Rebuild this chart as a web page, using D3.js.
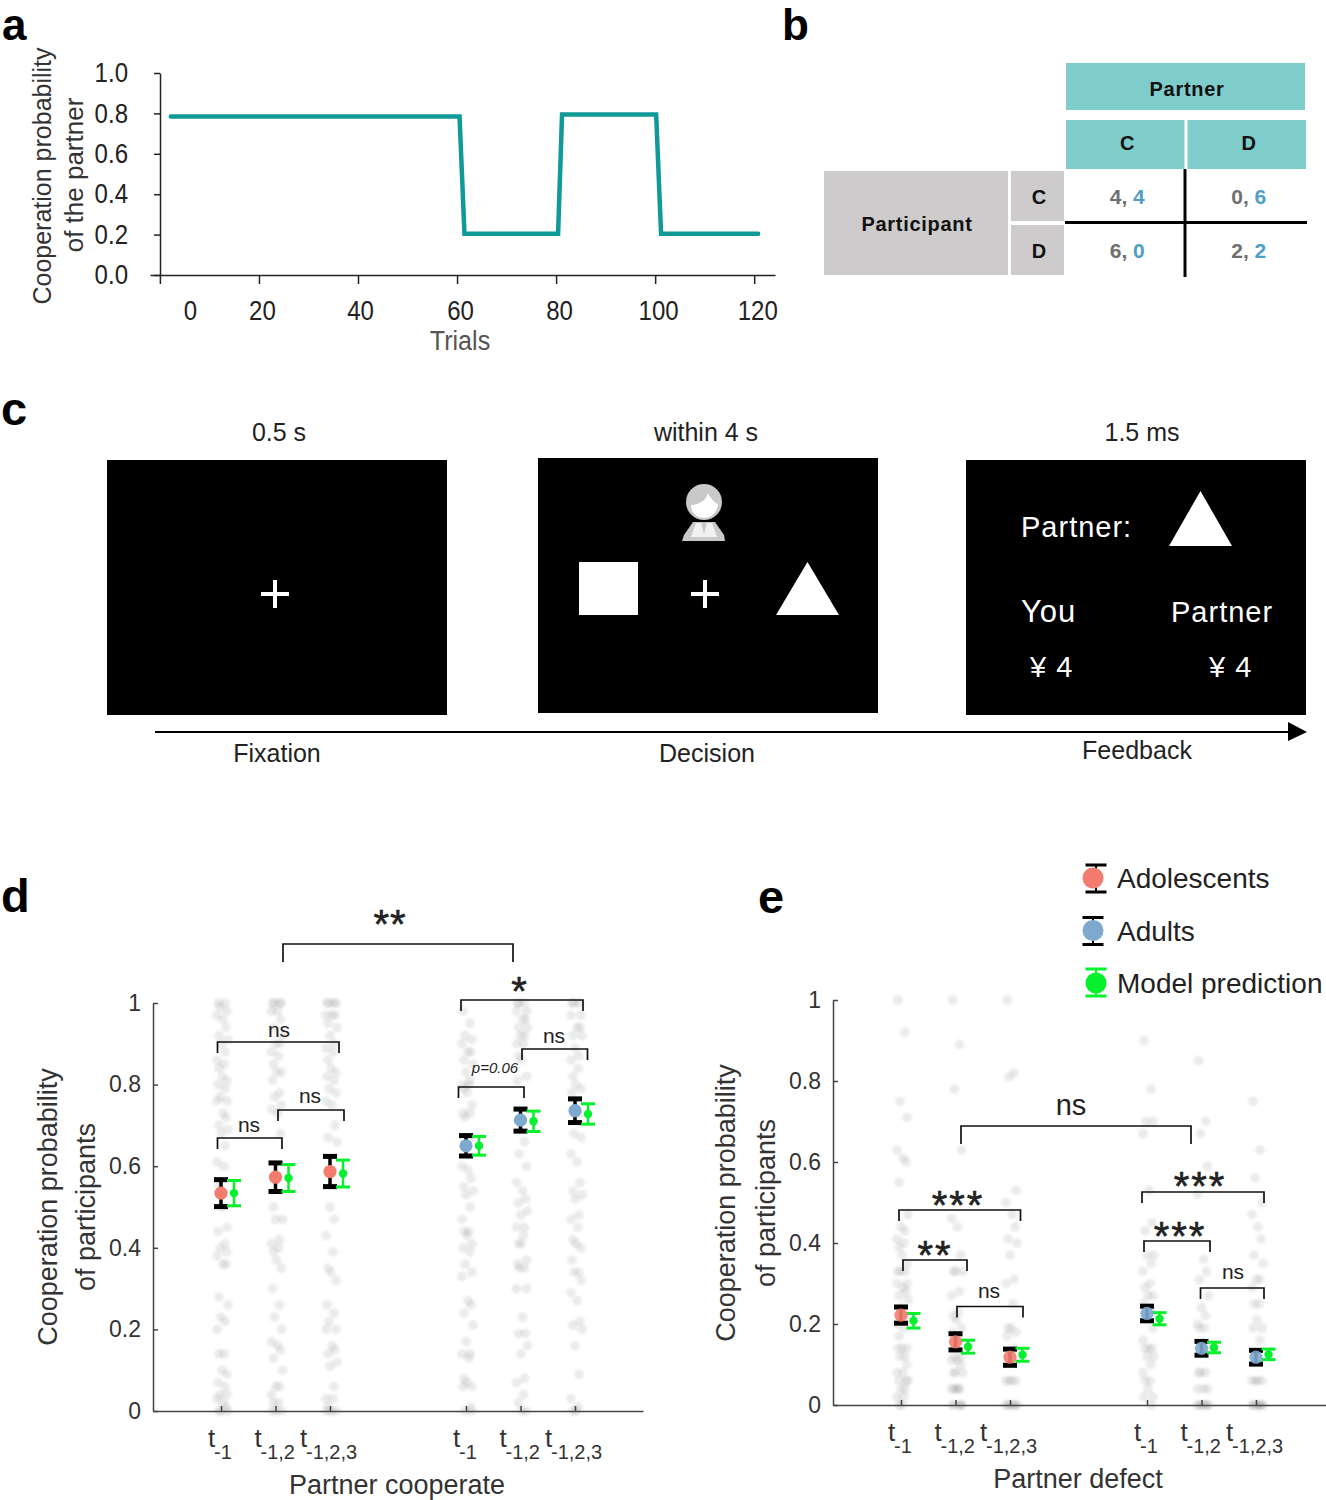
<!DOCTYPE html>
<html>
<head>
<meta charset="utf-8">
<script src="https://cdn.jsdelivr.net/npm/d3@7"></script>
<style>
  body { margin: 0; background: #fff; }
  text { font-family: "Liberation Sans", Arial, sans-serif; }
</style>
</head>
<body>
<div id="chart"></div>
<script>
// panel a
var trials = [2.2, 60.5, 61.5, 80.4, 81.2, 100.2, 101.2, 120.8]
var partnerProb = [0.785, 0.785, 0.204, 0.204, 0.795, 0.795, 0.204, 0.204]
var trialTicks = [0, 20, 40, 60, 80, 100, 120]

// panel b
var partnerActions = ["C", "D"]
var payoffMine = [[4, 0], [6, 2]]
var payoffOther = [[4, 6], [0, 2]]

// panel c
var stageNames = ["Fixation", "Decision", "Feedback"]
var stageTimes = ["0.5 s", "within 4 s", "1.5 ms"]

// shared by d and e
var groups = ["first", "second"]
var lags = ["-1", "-1,2", "-1,2,3"]
var seriesNames = ["Adolescents", "Adults", "Model prediction"]

// panel d, means and half error bars, three lags per group
var dHumanMean = [0.534, 0.573, 0.587, 0.650, 0.713, 0.736]
var dHumanErr = [0.033, 0.035, 0.037, 0.025, 0.027, 0.029]
var dModelMean = [0.534, 0.571, 0.582, 0.650, 0.710, 0.728]
var dModelErr = [0.031, 0.033, 0.033, 0.023, 0.025, 0.025]

// panel e
var eHumanMean = [0.222, 0.156, 0.118, 0.226, 0.140, 0.118]
var eHumanErr = [0.020, 0.020, 0.020, 0.018, 0.017, 0.017]
var eModelMean = [0.208, 0.144, 0.124, 0.213, 0.142, 0.125]
var eModelErr = [0.018, 0.016, 0.016, 0.015, 0.013, 0.013]

// participants
var dCloud = [
  [1,1,.99,.98,.97,.96,.94,.92,.91,.9,.88,.86,.85,.84,.82,.81,.8,.79,.77,.76,.76,.73,.72,.7,.69,.68,.65,.61,.6,.55,.5,.45,.44,.41,.4,.39,.38,.36,.36,.28,.26,.23,.22,.2,.14,.14,.1,.09,.07,.06,.04,.04,.03,.02,.01,0,0,0],
  [1,1,1,1,.98,.98,.96,.94,.92,.9,.9,.88,.87,.85,.83,.83,.81,.78,.77,.75,.74,.73,.68,.5,.47,.47,.42,.41,.4,.39,.37,.35,.3,.26,.23,.2,.17,.16,.15,.13,.1,.06,.06,.04,.02,.02,0,0,0],
  [1,1,1,1,.97,.97,.97,.95,.94,.92,.9,.89,.88,.86,.84,.83,.82,.81,.79,.78,.76,.75,.7,.67,.66,.5,.47,.43,.39,.35,.34,.32,.26,.24,.22,.2,.2,.16,.15,.14,.12,.11,.06,.03,.03,.01,0,0,0],
  [.98,.95,.92,.91,.9,.88,.88,.86,.85,.83,.81,.8,.8,.79,.78,.75,.73,.73,.72,.67,.6,.59,.57,.55,.54,.53,.5,.47,.44,.44,.43,.41,.4,.39,.36,.34,.33,.27,.26,.24,.21,.17,.14,.14,.13,.08,.07,.06,.06,.01,0,0],
  [1,1,1,.98,.98,.96,.96,.94,.94,.92,.92,.9,.9,.87,.86,.82,.81,.66,.63,.6,.56,.54,.52,.51,.49,.48,.45,.45,.43,.41,.41,.37,.36,.35,.35,.3,.3,.23,.19,.19,.16,.14,.08,.07,.04,.02,0,0],
  [1,1,1,.97,.97,.94,.94,.92,.92,.89,.87,.86,.84,.82,.8,.79,.78,.73,.68,.67,.63,.61,.56,.54,.53,.52,.48,.47,.45,.42,.41,.4,.37,.34,.34,.32,.29,.27,.22,.21,.2,.16,.09,.03,.01,0,0]
]
var eCloud = [
  [1,.92,.75,.71,.63,.61,.6,.55,.47,.44,.43,.41,.4,.39,.37,.35,.33,.33,.33,.3,.3,.29,.28,.27,.26,.24,.22,.2,.19,.17,.14,.14,.14,.12,.12,.1,.08,.08,.06,.06,.06,.04,.04,.02,.02,0,0],
  [1,.89,.78,.63,.46,.44,.37,.33,.33,.33,.28,.27,.23,.22,.21,.19,.18,.16,.12,.12,.11,.11,.1,.08,.08,.08,.04,.04,.04,.04,.04,0,0,0,0,0],
  [1,.82,.81,.53,.5,.47,.44,.41,.4,.37,.31,.3,.25,.19,.19,.18,.17,.14,.06,.06,.06,.06,0,0,0,0,0,0],
  [.9,.78,.7,.7,.67,.53,.45,.43,.37,.37,.35,.33,.3,.29,.27,.27,.25,.23,.21,.19,.16,.14,.14,.14,.12,.12,.1,.08,.06,.06,.04,.02,.02,0],
  [.85,.7,.67,.59,.52,.36,.33,.31,.27,.24,.22,.2,.19,.19,.14,.14,.08,.08,.08,.04,.04,.04,0,0,0,0,0,0],
  [.75,.63,.56,.5,.47,.44,.41,.37,.35,.31,.31,.29,.25,.25,.21,.19,.19,.16,.06,.06,.06,.06,0,0,0,0,0,0,0]
]

var colors = { Adolescents: "#f47c6e", Adults: "#7ea9cf", "Model prediction": "#06f02e" }
var jitter = [-4, 3, -2, 5, -5, 1, 4, -3, 6, -1, 3, -5, 2, -3, 0, 5]
var textColor = "#333"

var svg = d3.select("#chart").append("svg")
    .attr("width", 1326)
    .attr("height", 1500)

var defs = svg.append("defs")
defs.append("filter").attr("id", "soft")
    .append("feGaussianBlur").attr("stdDeviation", 1)

// panel letters
var letters = [["a", 2, 40, 44], ["b", 782, 40, 44], ["c", 1, 425, 47], ["d", 1, 912, 47], ["e", 758, 913, 47]]
svg.selectAll(".letter")
    .data(letters)
    .join("text")
    .attr("class", "letter")
    .attr("x", d => d[1])
    .attr("y", d => d[2])
    .style("font-size", d => d[3] + "px")
    .style("font-weight", "bold")
    .text(d => d[0])

function rotatedLabel(g, x, y, txt, size) {
    g.append("text")
        .attr("transform", `translate(${x},${y})rotate(-90)`)
        .attr("text-anchor", "middle")
        .style("font-size", size + "px")
        .style("fill", textColor)
        .text(txt)
}

// the tick labels of panel a are set in a condensed face
function squeeze(sel, factor) {
    sel.each(function () {
        var w = this.getComputedTextLength()
        d3.select(this)
            .attr("textLength", w * factor)
            .attr("lengthAdjust", "spacingAndGlyphs")
    })
}

// ---------- a ----------
function drawA() {
    var g = svg.append("g")
    var x = d3.scaleLinear().domain([-2, 124.2]).range([150, 775])
    var y = d3.scaleLinear().domain([0, 1]).range([275, 73])
    var nudge = [30, 3, 2, 3, 3, 3, 3]

    var ax = g.append("g")
        .attr("transform", "translate(0,275)")
        .call(d3.axisBottom(x).tickValues(trialTicks).tickSize(9).tickSizeOuter(0).tickPadding(17))
    ax.selectAll("text")
        .attr("dx", (d, i) => nudge[i])
        .style("font-size", "27px")
        .style("fill", "#222")
        .call(squeeze, 0.89)

    var ay = g.append("g")
        .attr("transform", "translate(160,0)")
        .call(d3.axisLeft(y).tickValues([0, .2, .4, .6, .8, 1]).tickFormat(d3.format(".1f")).tickSize(6).tickSizeOuter(0).tickPadding(26))
    ay.selectAll("text")
        .style("font-size", "27px")
        .style("fill", "#222")
        .call(squeeze, 0.89)
    g.selectAll(".domain, .tick line").attr("stroke", "#222").attr("stroke-width", 1.5)

    var line = d3.line().x(d => x(d[0])).y(d => y(d[1]))
    g.append("path")
        .datum(d3.zip(trials, partnerProb))
        .attr("d", line)
        .attr("fill", "none")
        .attr("stroke", "#0f9a98")
        .attr("stroke-width", 4.5)
        .attr("stroke-linecap", "round")

    g.append("text")
        .attr("x", 460).attr("y", 350)
        .attr("text-anchor", "middle")
        .style("font-size", "27px")
        .style("fill", "#555")
        .text("Trials")
        .call(squeeze, 0.93)

    rotatedLabel(g, 51, 176, "Cooperation probability", 25)
    rotatedLabel(g, 83, 175, "of the partner", 26)
}

// ---------- b ----------
function drawB() {
    var g = svg.append("g")
    var teal = "#7fcdcb", grey = "#cdcbcc"
    var colX = d3.scaleBand().domain(partnerActions).range([1066, 1306]).paddingInner(0.025)
    var rowY = d3.scaleBand().domain(partnerActions).range([171, 275]).paddingInner(0.074)

    g.append("rect").attr("x", 1066).attr("y", 63).attr("width", 239).attr("height", 47).attr("fill", teal)
    g.selectAll(".colHead").data(partnerActions).join("rect")
        .attr("x", d => colX(d)).attr("y", 120)
        .attr("width", colX.bandwidth()).attr("height", 49)
        .attr("fill", teal)
    g.append("rect").attr("x", 824).attr("y", 171).attr("width", 184).attr("height", 104).attr("fill", grey)
    g.selectAll(".rowHead").data(partnerActions).join("rect")
        .attr("x", 1011).attr("y", d => rowY(d))
        .attr("width", 53).attr("height", rowY.bandwidth())
        .attr("fill", grey)

    g.append("line").attr("x1", 1185).attr("x2", 1185).attr("y1", 169).attr("y2", 277).attr("stroke", "#000").attr("stroke-width", 3)
    g.append("line").attr("x1", 1065).attr("x2", 1307).attr("y1", 222.5).attr("y2", 222.5).attr("stroke", "#000").attr("stroke-width", 3)

    function bold(x, y, txt, spacing) {
        g.append("text").attr("x", x).attr("y", y)
            .attr("text-anchor", "middle")
            .style("font-size", "20px")
            .style("font-weight", "bold")
            .style("letter-spacing", spacing ? spacing + "px" : null)
            .style("fill", "#111")
            .text(txt)
    }
    bold(1187, 96, "Partner", 0.7)
    bold(917, 231, "Participant", 0.7)
    partnerActions.forEach(function (a, i) {
        bold(colX(a) + colX.bandwidth() / 2 + 2, 150, a)
        bold(1039, rowY(a) + rowY.bandwidth() / 2 + 8, a)
        partnerActions.forEach(function (b, j) {
            var t = g.append("text")
                .attr("x", colX(b) + colX.bandwidth() / 2 + 2)
                .attr("y", rowY(a) + rowY.bandwidth() / 2 + 8)
                .attr("text-anchor", "middle")
                .style("font-size", "21px")
                .style("font-weight", "bold")
            t.append("tspan").style("fill", "#6f6f6f").text(payoffMine[i][j] + ", ")
            t.append("tspan").style("fill", "#4f9fc4").text(payoffOther[i][j])
        })
    })
}

// ---------- c ----------
function drawC() {
    var g = svg.append("g")
    var screens = [[107, 460], [538, 458], [966, 460]]
    g.selectAll(".screen").data(screens).join("rect")
        .attr("x", d => d[0]).attr("y", d => d[1])
        .attr("width", 340).attr("height", 255)
        .attr("fill", "#000")

    var timeX = [279, 706, 1142], nameX = [277, 707, 1137], nameY = [762, 762, 759]
    stageTimes.forEach(function (s, i) {
        g.append("text").attr("x", timeX[i]).attr("y", 441).attr("text-anchor", "middle")
            .style("font-size", "25px").style("fill", "#222").text(s)
        g.append("text").attr("x", nameX[i]).attr("y", nameY[i]).attr("text-anchor", "middle")
            .style("font-size", "25px").style("fill", "#222").text(stageNames[i])
    })

    function plus(cx, cy) {
        g.append("path")
            .attr("d", `M${cx - 14},${cy}H${cx + 14}M${cx},${cy - 14}V${cy + 14}`)
            .attr("stroke", "#fff").attr("stroke-width", 4)
    }
    function triangle(x0, x1, top, base) {
        g.append("path")
            .attr("d", `M${x0},${base}L${(x0 + x1) / 2},${top}L${x1},${base}Z`)
            .attr("fill", "#fff")
    }
    plus(275, 594)
    plus(705, 594)
    g.append("rect").attr("x", 579).attr("y", 562).attr("width", 59).attr("height", 53).attr("fill", "#fff")
    triangle(776, 839, 562, 615)
    triangle(1169, 1232, 491, 546)

    // partner icon
    g.append("circle").attr("cx", 704).attr("cy", 502).attr("r", 18).attr("fill", "#c9c9c9")
    g.append("path")
        .attr("d", "M691,505C698,505 706,501 708,493C711,499 715,503 718,504C717,513 711,518 704,518C697,518 691,513 691,505Z")
        .attr("fill", "#fff")
    g.append("path").attr("d", "M682,541L684,535L693,522H715L724,535L725,541Z").attr("fill", "#c9c9c9")
    g.append("path").attr("d", "M691,537L696,523H701L704,534L707,523H712L717,537Z").attr("fill", "#f2f2f2")

    var white = [["Partner:", 1021, 537, 29], ["You", 1021, 622, 31], ["Partner", 1171, 622, 29], ["¥ 4", 1030, 677, 29], ["¥ 4", 1209, 677, 29]]
    g.selectAll(".white").data(white).join("text")
        .attr("x", d => d[1]).attr("y", d => d[2])
        .style("font-size", d => d[3] + "px")
        .style("letter-spacing", "1px")
        .style("fill", "#fff")
        .text(d => d[0])

    g.append("line").attr("x1", 155).attr("x2", 1292).attr("y1", 732).attr("y2", 732).attr("stroke", "#000").attr("stroke-width", 2)
    g.append("path").attr("d", "M1288,722L1307,732L1288,741Z").attr("fill", "#000")
}

// ---------- d and e ----------
function drawPanel(p) {
    var g = svg.append("g")
    var y = d3.scaleLinear().domain([0, 1]).range([p.bottom, p.top])
    var groupX = d3.scalePoint().domain(groups).range(p.groupRange)
    var lagX = d3.scalePoint().domain(lags).range([0, p.lagSpan])
    var slots = []
    groups.forEach(g0 => lags.forEach(l => slots.push(groupX(g0) + lagX(l))))

    // grey participants
    var cloud = g.append("g").attr("filter", "url(#soft)")
    p.cloud.forEach(function (col, i) {
        cloud.selectAll(".c" + i).data(col).join("circle")
            .attr("cx", (d, j) => slots[i] + jitter[j % jitter.length] + 1)
            .attr("cy", d => y(d))
            .attr("r", 4.8)
            .attr("fill", "#8a8a8a")
            .attr("fill-opacity", 0.17)
    })

    var xIdent = d3.scaleIdentity().domain(p.xExtent)
    g.append("g")
        .attr("transform", `translate(0,${p.bottom})`)
        .call(d3.axisBottom(xIdent).tickValues(slots).tickSize(-5).tickSizeOuter(0).tickFormat(""))
    var ay = g.append("g")
        .attr("transform", `translate(${p.xExtent[0]},0)`)
        .call(d3.axisLeft(y).tickValues([0, .2, .4, .6, .8, 1]).tickFormat(d => d).tickSize(-5).tickSizeOuter(0).tickPadding(12))
    ay.selectAll("text").style("font-size", "23px").style("fill", "#333")
    g.selectAll(".domain, .tick line").attr("stroke", "#444").attr("stroke-width", 1.5)

    // lag labels under the axis
    var tShift = [-13, -21, -30]
    slots.forEach(function (sx, i) {
        var l = lags[i % 3]
        var lx = sx + tShift[i % 3]
        g.append("text").attr("x", lx).attr("y", p.bottom + 36)
            .style("font-size", "26px").style("fill", "#333").text("t")
        g.append("text").attr("x", lx + 6).attr("y", p.bottom + 48)
            .style("font-size", "20px").style("fill", "#333").text(l)
    })

    function errorBar(sx, mean, err, color, capW, capH, lineW) {
        var b = g.append("g")
        b.append("line").attr("x1", sx).attr("x2", sx).attr("y1", y(mean - err)).attr("y2", y(mean + err))
            .attr("stroke", color).attr("stroke-width", lineW)
        ;[mean - err, mean + err].forEach(function (v) {
            b.append("line").attr("x1", sx - capW / 2).attr("x2", sx + capW / 2).attr("y1", y(v)).attr("y2", y(v))
                .attr("stroke", color).attr("stroke-width", capH)
        })
    }
    slots.forEach(function (sx, i) {
        errorBar(sx, p.humanMean[i], p.humanErr[i], "#000", 14, 5, 3.5)
        errorBar(sx + p.modelDx, p.modelMean[i], p.modelErr[i], colors["Model prediction"], 14, 3, 2.5)
        g.append("circle").attr("cx", sx + p.modelDx).attr("cy", y(p.modelMean[i])).attr("r", 4.2)
            .attr("fill", colors["Model prediction"])
        g.append("circle").attr("cx", sx).attr("cy", y(p.humanMean[i])).attr("r", 6.6)
            .attr("fill", i < 3 ? colors.Adolescents : colors.Adults)
            .attr("fill-opacity", p.markerOpacity)
    })

    // significance brackets
    p.brackets.forEach(function (b) {
        g.append("path")
            .attr("d", `M${b.x0},${b.top + b.drop}V${b.top}H${b.x1}V${b.top + b.drop}`)
            .attr("fill", "none").attr("stroke", "#111").attr("stroke-width", 1.7)
        var t = g.append("text").attr("x", b.lx).attr("y", b.ly)
            .attr("text-anchor", "middle")
            .style("font-size", b.size + "px")
            .style("font-style", b.italic ? "italic" : "normal")
            .style("letter-spacing", b.spacing ? b.spacing + "px" : null)
            .style("fill", "#222")
            .text(b.txt)
        if (b.txt.indexOf("*") == 0) t.style("stroke", "#222").style("stroke-width", 0.6)
    })

    rotatedLabel(g, p.labelX[0], p.labelY, "Cooperation probability", 27)
    rotatedLabel(g, p.labelX[1], p.labelY, "of participants", 27)
    g.append("text").attr("x", p.xTitle[0]).attr("y", p.xTitle[1]).attr("text-anchor", "middle")
        .style("font-size", "27px").style("fill", textColor).text(p.xTitle[2])
}

function drawLegend() {
    var g = svg.append("g")
    var rowY = d3.scalePoint().domain(seriesNames).range([878, 983])
    var capDy = [[-13, 14], [-13, 14], [-14, 13]]
    var capX = [1096, 1093, 1096]
    seriesNames.forEach(function (s, i) {
        var cy = rowY(s)
        var capColor = i == 2 ? colors[s] : "#000"
        capDy[i].forEach(function (dy) {
            g.append("line").attr("x1", capX[i] - 10.5).attr("x2", capX[i] + 10.5)
                .attr("y1", cy + dy).attr("y2", cy + dy)
                .attr("stroke", capColor).attr("stroke-width", 3)
        })
        g.append("line").attr("x1", capX[i]).attr("x2", capX[i]).attr("y1", cy + capDy[i][0]).attr("y2", cy + capDy[i][1])
            .attr("stroke", capColor).attr("stroke-width", 2)
        g.append("circle").attr("cx", i == 0 ? 1093 : capX[i]).attr("cy", cy).attr("r", 10.5).attr("fill", colors[s])
        g.append("text").attr("x", 1117).attr("y", cy + 10)
            .style("font-size", "28px").style("fill", "#222").text(s)
    })
}

drawA()
drawB()
drawC()
drawPanel({
    top: 1003, bottom: 1411, xExtent: [153, 643], groupRange: [221, 466], lagSpan: 109,
    cloud: dCloud, humanMean: dHumanMean, humanErr: dHumanErr, modelMean: dModelMean, modelErr: dModelErr,
    modelDx: 13, markerOpacity: 1,
    labelX: [57, 95], labelY: 1207, xTitle: [397, 1494, "Partner cooperate"],
    brackets: [
        { x0: 283, x1: 513, top: 944, drop: 18, txt: "**", lx: 390, ly: 938, size: 40, spacing: 1 },
        { x0: 461, x1: 583, top: 1000, drop: 11, txt: "*", lx: 519, ly: 1005, size: 40 },
        { x0: 217.5, x1: 339, top: 1042, drop: 11, txt: "ns", lx: 279, ly: 1037, size: 21 },
        { x0: 278, x1: 344, top: 1110, drop: 11, txt: "ns", lx: 310, ly: 1103, size: 21 },
        { x0: 217.5, x1: 282, top: 1138, drop: 11, txt: "ns", lx: 249, ly: 1132, size: 21 },
        { x0: 522, x1: 587.5, top: 1049, drop: 11, txt: "ns", lx: 554, ly: 1043, size: 21 },
        { x0: 458.5, x1: 524, top: 1087, drop: 11, txt: "p=0.06", lx: 495, ly: 1073, size: 15, italic: true }
    ]
})
drawPanel({
    top: 1000, bottom: 1405, xExtent: [833, 1326], groupRange: [901, 1147], lagSpan: 109,
    cloud: eCloud, humanMean: eHumanMean, humanErr: eHumanErr, modelMean: eModelMean, modelErr: eModelErr,
    modelDx: 12.5, markerOpacity: 0.9,
    labelX: [735, 775], labelY: 1203, xTitle: [1078, 1488, "Partner defect"],
    brackets: [
        { x0: 961, x1: 1191, top: 1126, drop: 18, txt: "ns", lx: 1071, ly: 1115, size: 29 },
        { x0: 899, x1: 1020.5, top: 1210, drop: 11, txt: "***", lx: 958, ly: 1219, size: 40, spacing: 2 },
        { x0: 903, x1: 967, top: 1260, drop: 11, txt: "**", lx: 935, ly: 1269, size: 40, spacing: 2 },
        { x0: 957, x1: 1023, top: 1306.5, drop: 11, txt: "ns", lx: 989, ly: 1298, size: 21 },
        { x0: 1142, x1: 1264, top: 1192, drop: 11, txt: "***", lx: 1200, ly: 1200, size: 40, spacing: 2 },
        { x0: 1144, x1: 1210, top: 1241, drop: 11, txt: "***", lx: 1180, ly: 1250, size: 40, spacing: 2 },
        { x0: 1200.5, x1: 1264, top: 1288, drop: 11, txt: "ns", lx: 1233, ly: 1279, size: 21 }
    ]
})
drawLegend()
</script>
</body>
</html>
